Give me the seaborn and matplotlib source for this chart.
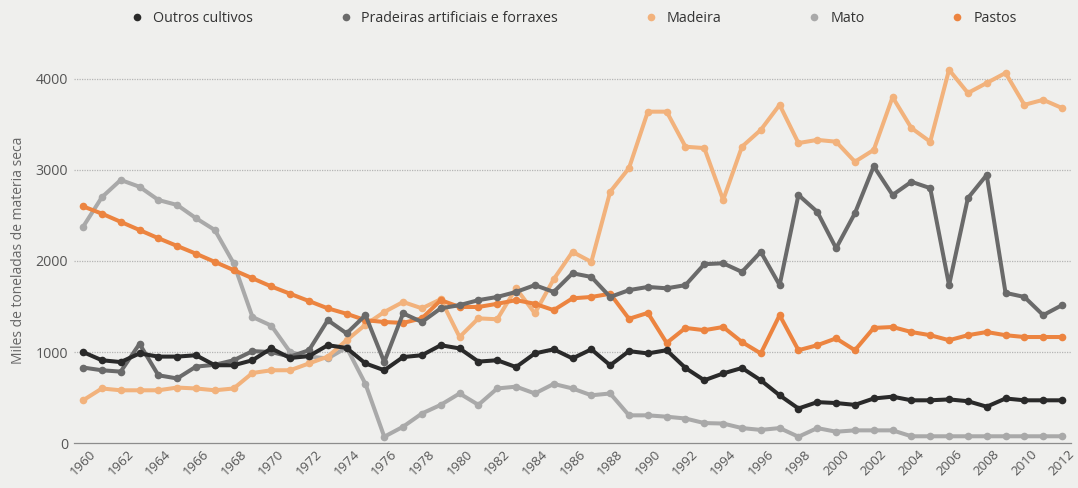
import matplotlib
matplotlib.use("Agg")
import matplotlib.pyplot as plt
import pandas as pd
import seaborn as sns

# Data
years = list(range(1960, 2013))

outros_cultivos = [1000, 910, 890, 985, 950, 950, 965, 855, 855, 910,
                   1040, 935, 955, 1075, 1045, 875, 800, 945, 965, 1075,
                   1040, 895, 910, 835, 985, 1030, 930, 1030, 855, 1010,
                   985, 1020, 825, 690, 765, 825, 690, 525, 380, 450,
                   440, 420, 490, 510, 470, 470, 480, 460, 400, 490,
                   470, 470, 470]
pradeiras = [830, 800, 785, 1090, 745, 710, 840, 860, 910, 1010,
             1000, 950, 1020, 1350, 1205, 1405, 890, 1425, 1330, 1480,
             1515, 1570, 1605, 1660, 1735, 1660, 1865, 1825, 1605, 1680,
             1715, 1700, 1735, 1965, 1975, 1880, 2100, 1735, 2725, 2540,
             2140, 2525, 3040, 2725, 2870, 2800, 1735, 2690, 2945, 1650,
             1605, 1405, 1515]
madeira = [470, 600, 580, 580, 580, 610, 600, 580, 600, 770,
           800, 800, 875, 950, 1130, 1300, 1440, 1550, 1480, 1580,
           1165, 1370, 1360, 1700, 1425, 1800, 2100, 1990, 2760, 3020,
           3640, 3640, 3255, 3240, 2670, 3255, 3440, 3715, 3295, 3330,
           3310, 3090, 3220, 3800, 3460, 3310, 4100, 3845, 3955, 4065,
           3715, 3770, 3680]
mato = [2375, 2700, 2890, 2815, 2670, 2615, 2470, 2340, 1975, 1385,
        1290, 1000, 950, 930, 1050, 650, 70, 180, 325, 420,
        545, 420, 600, 620, 545, 650, 600, 525, 545, 305,
        305, 290, 270, 220, 215, 165, 145, 165, 70, 165,
        125, 140, 140, 140, 75, 75, 75, 75, 75, 75,
        75, 75, 75]
pastos = [2600, 2520, 2430, 2340, 2250, 2165, 2080, 1990, 1900, 1810,
          1720, 1640, 1560, 1480, 1420, 1350, 1330, 1320, 1370, 1570,
          1495, 1495, 1530, 1570, 1530, 1460, 1590, 1605, 1640, 1365,
          1430, 1100, 1265, 1240, 1275, 1110, 985, 1405, 1020, 1075,
          1150, 1020, 1265, 1275, 1220, 1185, 1130, 1185, 1220, 1185,
          1165, 1165, 1165]

legend_order = ["Outros cultivos", "Pradeiras artificiais e forraxes",
                "Madeira", "Mato", "Pastos"]
colors = {"Outros cultivos": "#2a2a2a",
          "Pradeiras artificiais e forraxes": "#6a6a6a",
          "Madeira": "#f2b27c",
          "Mato": "#a9a9a9",
          "Pastos": "#ec8440"}

df = pd.DataFrame({"year": years,
                   "Outros cultivos": outros_cultivos,
                   "Pradeiras artificiais e forraxes": pradeiras,
                   "Madeira": madeira,
                   "Mato": mato,
                   "Pastos": pastos})

sns.set_style("white")
plt.rcParams["font.family"] = ["Open Sans", "DejaVu Sans"]

bg = "#efefed"
fig = plt.figure(figsize=(10.78, 4.88), dpi=100, facecolor=bg)
ax = fig.add_axes([0.0683, 0.092, 0.9256, 0.793])
ax.set_facecolor(bg)

# draw bottom-most first so black ends on top
draw_order = ["Mato", "Madeira", "Pastos", "Pradeiras artificiais e forraxes", "Outros cultivos"]
for i, name in enumerate(draw_order):
    sns.lineplot(data=df, x="year", y=name, ax=ax, color=colors[name],
                 linewidth=2.9, marker="o", markersize=5.5, markeredgewidth=0,
                 label=name, zorder=3 + i, clip_on=False)

ax.set_xlim(1959.5, 2012.5)
ax.set_ylim(0, 4250)

for v in [1000, 2000, 3000, 4000]:
    ax.axhline(v, color="#b5b5b5", linestyle=(0, (1, 1)), linewidth=0.9, zorder=1)

for s in ["top", "right", "left"]:
    ax.spines[s].set_visible(False)
ax.spines["bottom"].set_color("#8c8c8c")
ax.spines["bottom"].set_linewidth(0.9)

ax.set_xticks(list(range(1960, 2013, 2)))
ax.set_xticks(years, minor=True)
ax.set_xticklabels([str(y) for y in range(1960, 2013, 2)], rotation=45,
                   fontsize=9.5, color="#555555")
ax.tick_params(axis="x", which="both", direction="in", length=3, width=0.7,
               color="#8c8c8c", pad=3)
ax.set_yticks([0, 1000, 2000, 3000, 4000])
ax.set_yticklabels(["0", "1000", "2000", "3000", "4000"], fontsize=10.2, color="#555555")
ax.tick_params(axis="y", length=0, pad=4)
ax.set_xlabel("")
ax.set_ylabel("")
fig.text(0.017, 0.488, "Miles de toneladas de materia seca", rotation=90,
         ha="center", va="center", fontsize=10, color="#666666")

handles, labels = ax.get_legend_handles_labels()
hmap = dict(zip(labels, handles))
ax.legend([hmap[n] for n in legend_order], legend_order, ncol=5, frameon=False,
          loc="center", bbox_to_anchor=(0.533, 0.963), bbox_transform=fig.transFigure,
          fontsize=10.3, labelcolor="#333333", handlelength=0.6, handletextpad=0.8,
          columnspacing=6.2)
for h in ax.get_legend().legend_handles:
    h.set_linestyle("none")
    h.set_markersize(5.5)

fig.savefig("out.png", dpi=100, facecolor=bg)
